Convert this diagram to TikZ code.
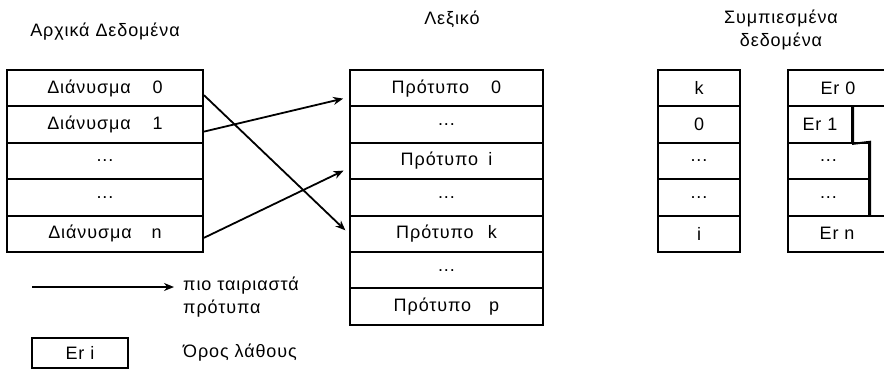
\documentclass[tikz,border=0pt]{standalone}
\usepackage{fontspec}
\setmainfont[LetterSpace=5]{Liberation Sans}
\usetikzlibrary{arrows.meta}

\begin{document}
\begin{tikzpicture}[x=1pt,y=-1pt,
        font=\fontsize{18}{23}\selectfont,
        cell/.style={draw=black,line width=2pt,minimum height=36.4pt,inner sep=0pt},
        match/.style={-{Stealth[length=10pt,width=8pt]},line width=1.8pt}]

        \useasboundingbox (0,0) rectangle (884,370);
        \clip (0,0) rectangle (884,370);

        % titles
        \node (orig) at (105,32) {Αρχικά Δεδομένα};
        \node (dict) at (452,19) {Λεξικό};
        \node[align=center] (comp) at (781,30) {Συμπιεσμένα\\δεδομένα};

        % original vectors
        \node[cell,minimum width=196pt] (v0) at (105,88.2) {Διάνυσμα\hspace{22pt}0};
        \node[cell,minimum width=196pt] (v1) at (105,124.6) {Διάνυσμα\hspace{22pt}1};
        \node[cell,minimum width=196pt] (v2) at (105,161.0) {...};
        \node[cell,minimum width=196pt] (v3) at (105,197.4) {...};
        \node[cell,minimum width=196pt] (vn) at (105,233.8) {Διάνυσμα\hspace{20pt}n};

        % dictionary
        \node[cell,minimum width=193pt] (p0) at (446.5,88.2) {Πρότυπο\hspace{22pt}0};
        \node[cell,minimum width=193pt] (d1) at (446.5,124.6) {...};
        \node[cell,minimum width=193pt] (pi) at (446.5,161.0) {Πρότυπο\hspace{10pt}i};
        \node[cell,minimum width=193pt] (d2) at (446.5,197.4) {...};
        \node[cell,minimum width=193pt] (pk) at (446.5,233.8) {Πρότυπο\hspace{14pt}k};
        \node[cell,minimum width=193pt] (d3) at (446.5,270.2) {...};
        \node[cell,minimum width=193pt] (pp) at (446.5,306.6) {Πρότυπο\hspace{18pt}p};

        % indices
        \node[cell,minimum width=82pt] (c0) at (699,88.2) {k};
        \node[cell,minimum width=82pt] (c1) at (699,124.6) {0};
        \node[cell,minimum width=82pt] (c2) at (699,161.0) {...};
        \node[cell,minimum width=82pt] (c3) at (699,197.4) {...};
        \node[cell,minimum width=82pt] (cn) at (699,233.8) {i};

        % error terms
        \node[cell,minimum width=112pt] (e0) at (844,88.2) {\hspace{-12pt}Er 0};
        \node[cell,minimum width=64pt] (e1) at (820,124.6) {Er 1};
        \node[cell,minimum width=81pt] (e2) at (828.5,161.0) {...};
        \node[cell,minimum width=81pt] (e3) at (828.5,197.4) {...};
        \node[cell,minimum width=112pt] (en) at (844,233.8) {\hspace{-14pt}Er n};
        \draw[line width=2pt] (e1.north east) -- (e1.south east) -- (e2.north east) -- (e3.south east);

        % best matches
        \path[match] ([yshift=-7pt]v0.east) edge[shorten >=5pt] (pk.west);
        \path[match] ([yshift=-7pt]v1.east) edge[shorten >=6pt] ([yshift=-9pt]p0.west);
        \path[match] ([yshift=-4pt]vn.east) edge[shorten >=6pt] ([yshift=-7pt]pi.west);

        % legend
        \coordinate (la) at (32,287);
        \coordinate (lb) at (174,287);
        \draw[match] (la) -- (lb);
        \node[anchor=north west,align=left,inner sep=0pt] (lt) at (183,277) {πιο ταιριαστά\\πρότυπα};
        \node[cell,minimum width=96pt,minimum height=30pt] (err) at (80,353) {Er i};
        \node[anchor=west,inner sep=0pt] (errt) at (183,353) {Όρος λάθους};

    \end{tikzpicture}
\end{document}
